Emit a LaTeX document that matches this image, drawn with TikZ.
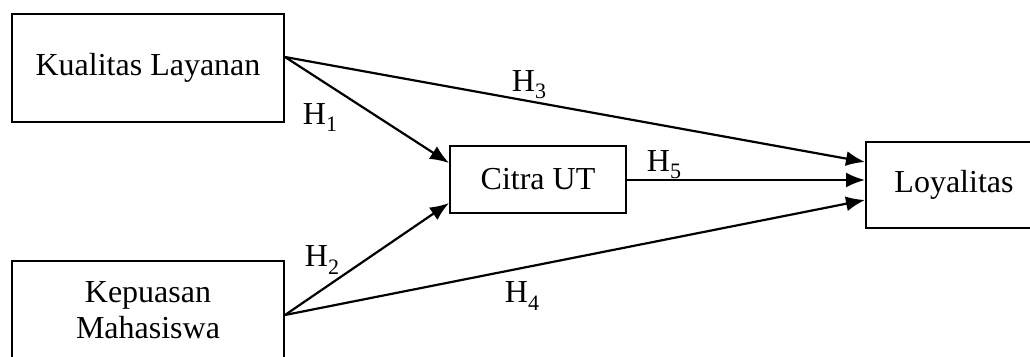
\documentclass[tikz,border=0pt]{standalone}
\usepackage{fontspec}
\setmainfont{Liberation Serif}
\usetikzlibrary{arrows.meta,calc}
\newcommand{\Hlab}[1]{H\raisebox{-0.22em}{\fontsize{22}{22}\selectfont #1}}
\begin{document}
\begin{tikzpicture}[x=1pt,y=-1pt,
  box/.style={draw,line width=2pt,rectangle,inner sep=0pt,align=center,
    font=\fontsize{32}{36}\selectfont},
  arr/.style={line width=2.2pt,-{Latex[length=19pt,width=15pt]}},
  lab/.style={font=\fontsize{32}{33}\selectfont,inner sep=0pt}]
\useasboundingbox (0,0) rectangle (1030,356);
\clip (0,0) rectangle (1030,356);
\node[box,minimum width=272pt,minimum height=108pt] (KL) at (148,68) {Kualitas Layanan};
\node[box,minimum width=272pt,minimum height=98pt] (KM) at (148,310) {Kepuasan\\Mahasiswa};
\node[box,minimum width=176pt,minimum height=67pt] (CU) at (538,179.5) {Citra UT};
\node[box,minimum width=176pt,minimum height=86pt] (LY) at (954,185) {Loyalitas};
\coordinate (klo) at ($(KL.east)+(0,-11)$);
\coordinate (kmo) at ($(KM.east)+(0,5)$);
\draw[arr] (klo) -- ($(CU.west)+(0,-16.5)$);
\draw[arr] (klo) -- ($(LY.west)+(0,-23)$);
\draw[arr] (kmo) -- ($(CU.west)+(0,23.5)$);
\draw[arr] (kmo) -- ($(LY.west)+(0,15)$);
\draw[arr] (CU.east |- 0,180) -- (LY.west |- 0,180);
\node[lab] (h1) at (320,118) {\Hlab{1}};
\node[lab] (h2) at (322,260) {\Hlab{2}};
\node[lab] (h3) at (529,85) {\Hlab{3}};
\node[lab] (h4) at (522,296) {\Hlab{4}};
\node[lab] (h5) at (664,165) {\Hlab{5}};
\end{tikzpicture}
\end{document}
